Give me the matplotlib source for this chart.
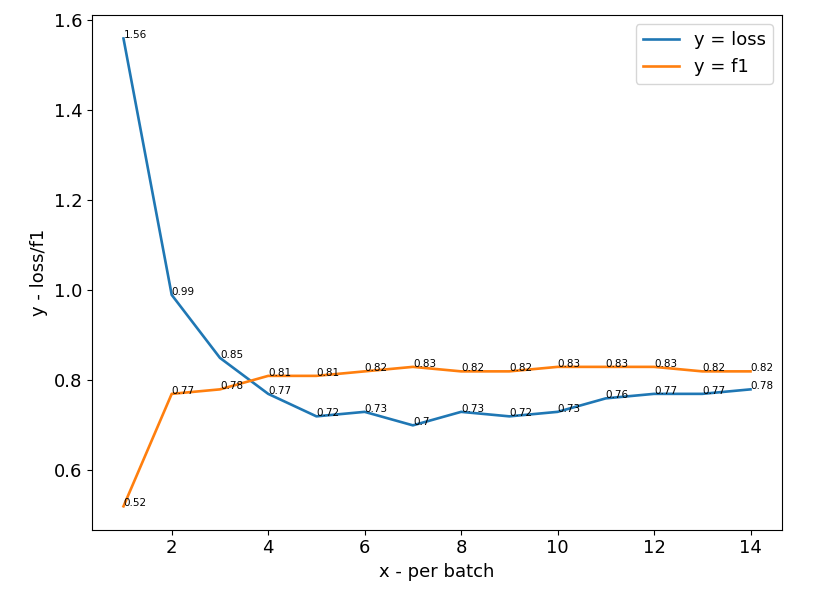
import matplotlib.pyplot as plt

x = list(range(1, 15))
loss = [1.56, 0.99, 0.85, 0.77, 0.72, 0.73, 0.7, 0.73, 0.72, 0.73, 0.76, 0.77, 0.77, 0.78]
f1 = [0.52, 0.77, 0.78, 0.81, 0.81, 0.82, 0.83, 0.82, 0.82, 0.83, 0.83, 0.83, 0.82, 0.82]

fig = plt.figure(figsize=(8.3, 6.04), dpi=100)
ax = fig.add_axes([0.111, 0.123, 0.831, 0.852])

ax.plot(x, loss, label='y = loss', linewidth=1.9)
ax.plot(x, f1, label='y = f1', linewidth=1.9)

# value labels on every point
for a, b in zip(x, loss):
    ax.text(a, b, b, fontsize=7.5)
for a, b in zip(x, f1):
    ax.text(a, b, b, fontsize=7.5)

ax.set_xlabel('x - per batch', fontsize=13)
ax.set_ylabel('y - loss/f1', fontsize=13)
ax.tick_params(labelsize=13)
ax.legend(fontsize=13)

fig.savefig('out.png')
